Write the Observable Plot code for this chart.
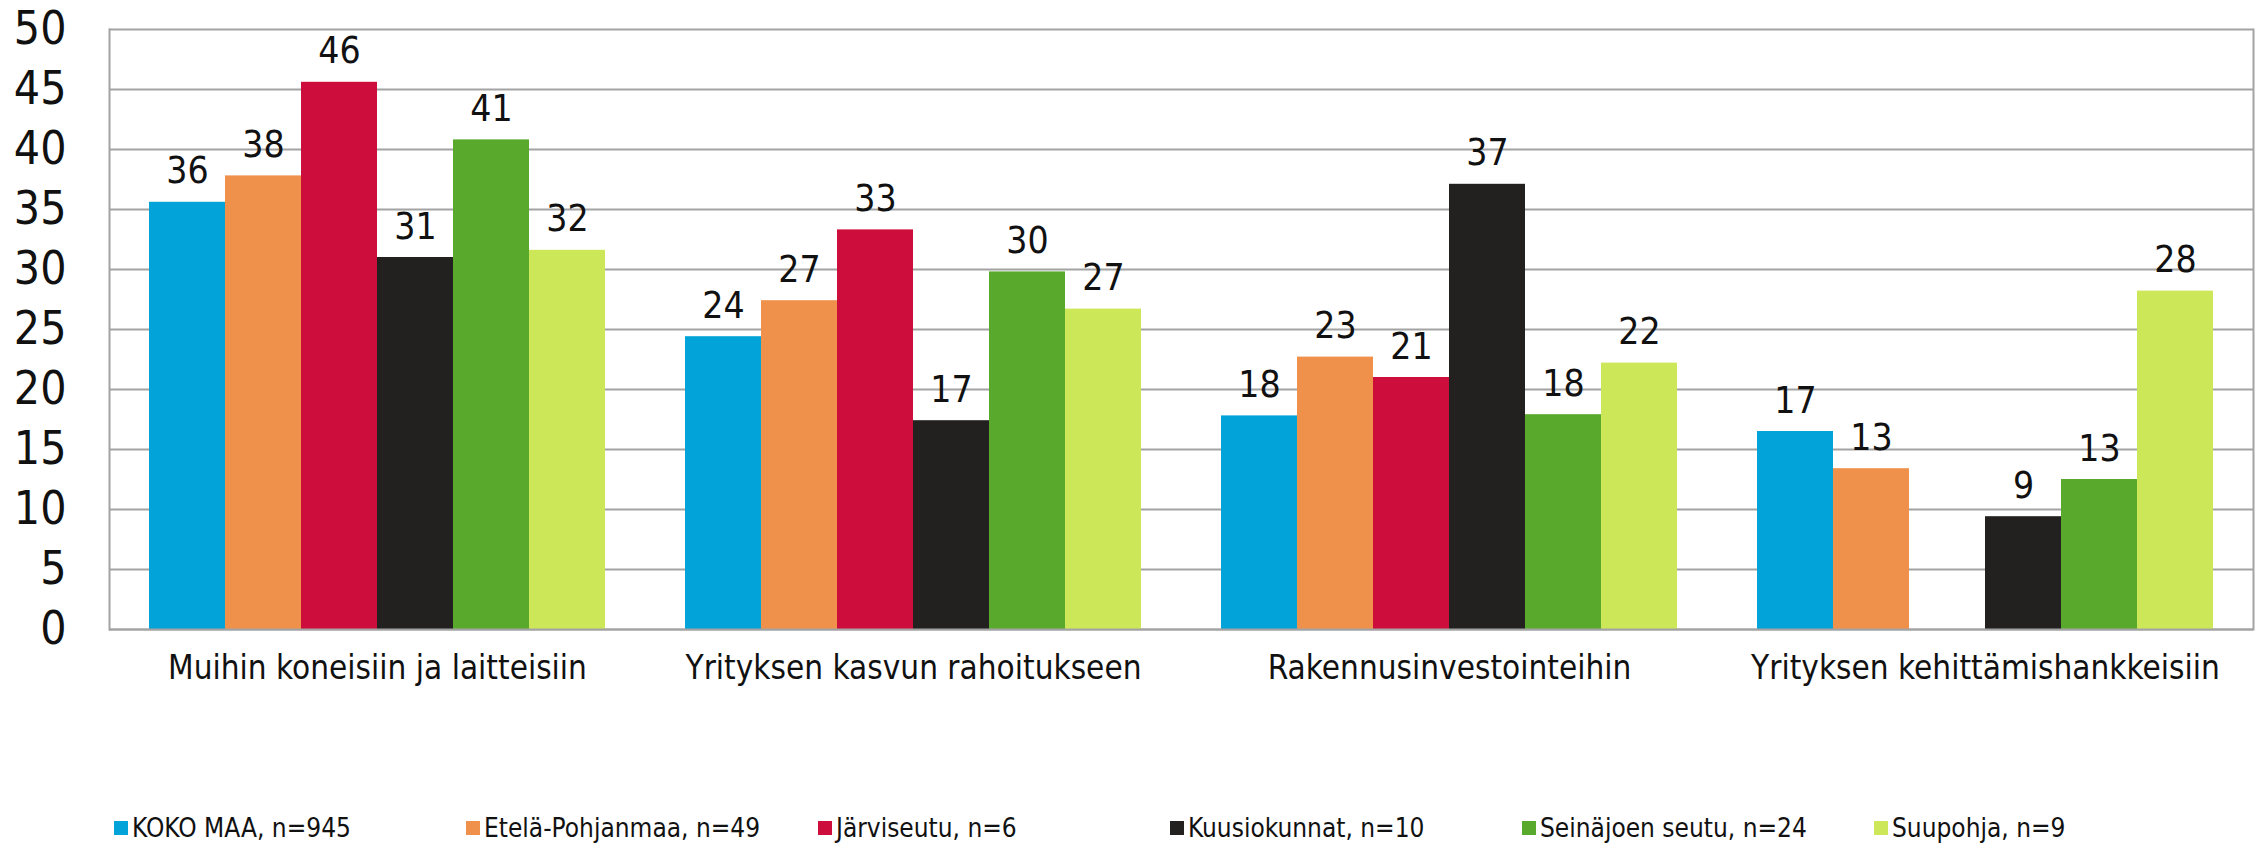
<!DOCTYPE html>
<html>
<head>
<meta charset="utf-8">
<script src="https://cdn.jsdelivr.net/npm/d3@7"></script>
<script src="https://cdn.jsdelivr.net/npm/@observablehq/plot@0.6"></script>
<style>
  body { margin: 0; background: #fff; position: relative; width: 2257px; height: 849px; overflow: hidden;
         font-family: "DejaVu Sans Condensed", "DejaVu Sans", sans-serif; font-stretch: condensed; }
  #legend { position: absolute; top: 813px; left: 114px; display: flex; }
  .item { width: 352px; display: flex; align-items: center; font-size: 26px; color: #111; white-space: nowrap; }
  .sw { width: 14px; height: 14px; margin-right: 4px; flex: none; }
</style>
</head>
<body>
<div id="chart"></div>
<div id="legend"></div>
<script>
const categories = ["Muihin koneisiin ja laitteisiin", "Yrityksen kasvun rahoitukseen", "Rakennusinvestointeihin", "Yrityksen kehittämishankkeisiin"];
const series = ["KOKO MAA, n=945", "Etelä-Pohjanmaa, n=49", "Järviseutu, n=6", "Kuusiokunnat, n=10", "Seinäjoen seutu, n=24", "Suupohja, n=9"];
const colors = ["#02a3d9", "#ef914b", "#cd0e3d", "#222120", "#58a92c", "#cce859"];
const kokoMaa        = [35.6, 24.4, 17.8, 16.5];
const etelaPohjanmaa = [37.8, 27.4, 22.7, 13.4];
const jarviseutu     = [45.6, 33.3, 21.0, null];
const kuusiokunnat   = [31.0, 17.4, 37.1, 9.4];
const seinajoki      = [40.8, 29.8, 17.9, 12.5];
const suupohja       = [31.6, 26.7, 22.2, 28.2];
const yTicks = [0, 5, 10, 15, 20, 25, 30, 35, 40, 45, 50];

const seriesValues = [kokoMaa, etelaPohjanmaa, jarviseutu, kuusiokunnat, seinajoki, suupohja];
const data = [];
categories.forEach((c, i) => series.forEach((s, j) => {
  data.push({cat: c, series: s, value: seriesValues[j][i]});
}));
const present = data.filter(d => d.value != null);

const font = "'DejaVu Sans Condensed', 'DejaVu Sans', sans-serif";
const gridColor = "#a3a3a3";

const plot = Plot.plot({
  width: 2257,
  height: 720,
  marginTop: 29,
  marginBottom: 91,
  marginLeft: 108,
  marginRight: 4,
  style: {fontFamily: font, background: "white", color: "#111"},
  fx: {domain: categories, padding: 0, label: null},
  x: {domain: series, paddingInner: 0, paddingOuter: 0.525, axis: null},
  y: {domain: [0, 50], label: null},
  color: {domain: series, range: colors},
  marks: [
    Plot.gridY(yTicks, {stroke: gridColor, strokeOpacity: 1, strokeWidth: 2}),
    Plot.frame({anchor: "left", facetAnchor: "left", stroke: gridColor, strokeWidth: 2}),
    Plot.frame({anchor: "right", facetAnchor: "right", stroke: gridColor, strokeWidth: 2}),
    Plot.barY(present, {fx: "cat", x: "series", y: "value", fill: "series"}),
    Plot.ruleY([0], {stroke: gridColor, strokeWidth: 2}),
    Plot.text(present, {fx: "cat", x: "series", y: "value", text: d => String(Math.round(d.value)),
      lineAnchor: "bottom", dy: -19, fontSize: 37, fill: "#111"}),
    Plot.axisY(yTicks, {tickSize: 0, tickPadding: 43, fontSize: 46, label: null}),
    Plot.axisFx({anchor: "bottom", tickSize: 0, tickPadding: 26, fontSize: 33, label: null})
  ]
});
document.getElementById("chart").appendChild(plot);

const legend = document.getElementById("legend");
series.forEach((s, j) => {
  const item = document.createElement("div");
  item.className = "item";
  const sw = document.createElement("span");
  sw.className = "sw";
  sw.style.background = colors[j];
  const t = document.createElement("span");
  t.textContent = s;
  item.appendChild(sw);
  item.appendChild(t);
  legend.appendChild(item);
});
</script>
</body>
</html>
